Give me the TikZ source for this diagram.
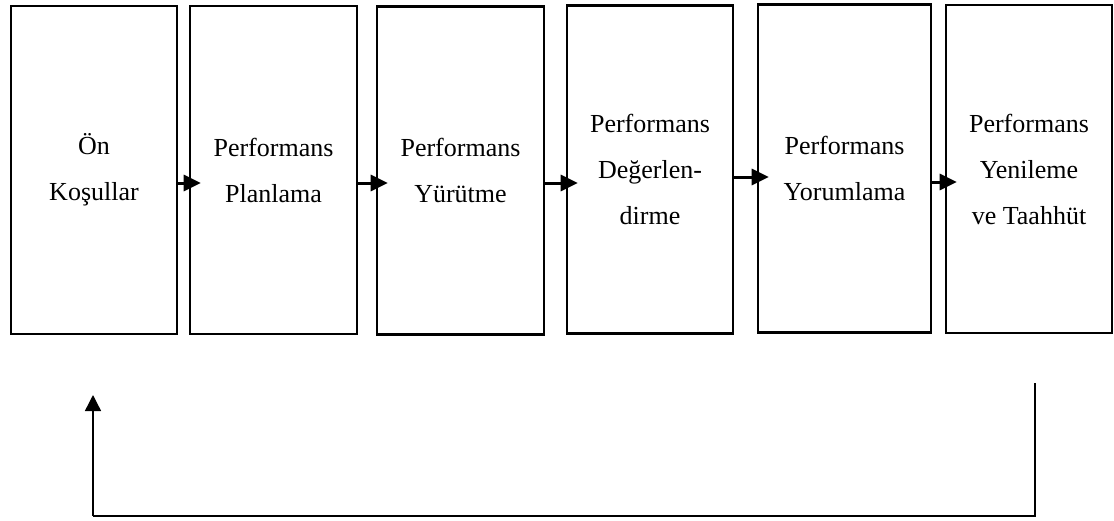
\documentclass[tikz,border=0pt]{standalone}
\usepackage{fontspec}
\setmainfont{Liberation Serif}
\usetikzlibrary{arrows.meta}

\tikzset{
    stagebox/.style={draw=black, line width=1.3pt, align=center, inner sep=0pt,
        minimum height=164pt, font=\fontsize{13pt}{23pt}\selectfont},
    flowarrow/.style={line width=1.5pt, -{Triangle[length=8.5pt, width=8pt]}, shorten >=-6pt},
    backline/.style={line width=0.7pt}
}

\begin{document}
\begin{tikzpicture}[x=0.5pt, y=-0.5pt]
        \useasboundingbox (0,0) rectangle (1114,520);

        \node[stagebox, minimum width=83pt] (onkosul) at (94,170) {Ön\\Koşullar};
        \node[stagebox, minimum width=83.5pt] (planlama) at (273.5,170) {Performans\\Planlama};
        \node[stagebox, minimum width=83.5pt] (yurutme) at (460.5,170.5) {Performans\\Yürütme};
        \node[stagebox, minimum width=83pt] (degerlendirme) at (650,169.5) {Performans\\Değerlen-\\dirme};
        \node[stagebox, minimum width=86.5pt] (yorumlama) at (844.5,168.5) {Performans\\Yorumlama};
        \node[stagebox, minimum width=83pt] (yenileme) at (1029,169) {Performans\\Yenileme\\ve Taahhüt};

        \coordinate (row) at (0,183);
        \draw[flowarrow] (onkosul.east |- row) -- (planlama.west |- row);
        \draw[flowarrow] (planlama.east |- row) -- (yurutme.west |- row);
        \draw[flowarrow] (yurutme.east |- row) -- (degerlendirme.west |- row);
        \draw[flowarrow] (degerlendirme.east |- 0,177) -- (yorumlama.west |- 0,177);
        \draw[flowarrow] (yorumlama.east |- 0,182) -- (yenileme.west |- 0,182);

        % geri besleme
        \coordinate (fbstart) at (1035,383);
        \coordinate (fbcorner) at (93,516);
        \coordinate (fbend) at (93,395);
        \draw[backline] (fbstart) -- (fbstart |- fbcorner) -- (fbcorner);
        \draw[backline, -{Triangle[length=8pt, width=8pt]}] (fbcorner) -- (fbend);
    \end{tikzpicture}
\end{document}
